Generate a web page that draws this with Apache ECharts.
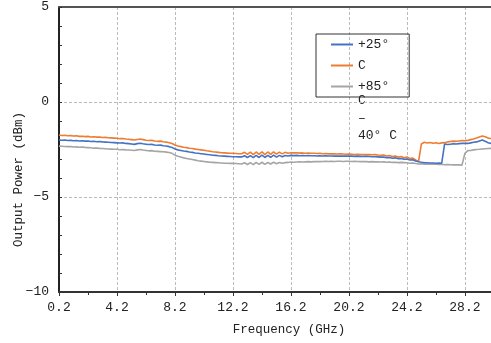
<!DOCTYPE html>
<html>
<head>
<meta charset="utf-8">
<script src="https://cdn.jsdelivr.net/npm/echarts@6/dist/echarts.min.js"></script>
<style>html,body{margin:0;padding:0;background:#fff}#c{width:491px;height:343px}</style>
</head>
<body>
<div id="c"></div>
<script>
// Frequency grid (GHz)
const freqs = [
 0.2,0.4,0.6,0.8,1.0,1.2,1.4,1.6,1.8,2.0,
 2.2,2.4,2.6,2.8,3.0,3.2,3.4,3.6,3.8,4.0,
 4.2,4.4,4.6,4.8,5.0,5.2,5.4,5.6,5.8,6.0,
 6.2,6.4,6.6,6.8,7.0,7.2,7.4,7.6,7.8,8.0,
 8.2,8.4,8.6,8.8,9.0,9.2,9.4,9.6,9.8,10.0,
 10.2,10.4,10.6,10.8,11.0,11.2,11.4,11.6,11.8,12.0,
 12.2,12.4,12.6,12.8,13.0,13.2,13.4,13.6,13.8,14.0,
 14.2,14.4,14.6,14.8,15.0,15.2,15.4,15.6,15.8,16.0,
 16.2,16.4,16.6,16.8,17.0,17.2,17.4,17.6,17.8,18.0,
 18.2,18.4,18.6,18.8,19.0,19.2,19.4,19.6,19.8,20.0,
 20.2,20.4,20.6,20.8,21.0,21.2,21.4,21.6,21.8,22.0,
 22.2,22.4,22.6,22.8,23.0,23.2,23.4,23.6,23.8,24.0,
 24.2,24.4,24.6,24.8,25.0,25.2,25.4,25.6,25.8,26.0,
 26.2,26.4,26.6,26.8,27.0,27.2,27.4,27.6,27.8,28.0,
 28.2,28.4,28.6,28.8,29.0,29.2,29.4,29.6,29.8,30.0
];
// Output power (dBm), blue series
const powerBlue = [
 -2.00,-2.01,-2.00,-2.03,-2.02,-2.04,-2.03,-2.05,-2.04,-2.06,
 -2.05,-2.08,-2.07,-2.09,-2.08,-2.10,-2.11,-2.12,-2.13,-2.14,
 -2.15,-2.16,-2.15,-2.18,-2.19,-2.21,-2.23,-2.19,-2.17,-2.20,
 -2.22,-2.24,-2.23,-2.26,-2.28,-2.27,-2.30,-2.32,-2.35,-2.39,
 -2.47,-2.52,-2.55,-2.58,-2.60,-2.63,-2.65,-2.68,-2.70,-2.72,
 -2.74,-2.76,-2.78,-2.80,-2.81,-2.83,-2.84,-2.85,-2.86,-2.87,
 -2.88,-2.88,-2.89,-2.89,-2.83,-2.92,-2.82,-2.93,-2.81,-2.92,
 -2.80,-2.92,-2.81,-2.91,-2.80,-2.90,-2.81,-2.88,-2.82,-2.84,
 -2.81,-2.82,-2.81,-2.83,-2.82,-2.83,-2.82,-2.83,-2.83,-2.84,
 -2.83,-2.84,-2.83,-2.84,-2.84,-2.85,-2.84,-2.85,-2.84,-2.85,
 -2.84,-2.85,-2.86,-2.85,-2.86,-2.87,-2.86,-2.87,-2.88,-2.88,
 -2.89,-2.90,-2.90,-2.93,-2.92,-2.96,-2.94,-2.99,-2.97,-3.01,
 -3.00,-3.05,-3.04,-3.10,-3.14,-3.17,-3.19,-3.20,-3.21,-3.21,
 -3.22,-3.21,-3.22,-2.21,-2.24,-2.22,-2.20,-2.21,-2.19,-2.18,
 -2.17,-2.18,-2.15,-2.12,-2.10,-2.05,-2.00,-2.07,-2.14,-2.18
];
// Output power (dBm), orange series
const powerOrange = [
 -1.74,-1.76,-1.75,-1.78,-1.77,-1.79,-1.78,-1.81,-1.80,-1.82,
 -1.81,-1.84,-1.83,-1.85,-1.84,-1.87,-1.86,-1.88,-1.89,-1.90,
 -1.91,-1.93,-1.92,-1.95,-1.96,-1.98,-2.00,-1.97,-1.95,-1.98,
 -2.01,-2.03,-2.02,-2.05,-2.07,-2.06,-2.09,-2.11,-2.14,-2.18,
 -2.26,-2.32,-2.35,-2.38,-2.40,-2.43,-2.45,-2.48,-2.50,-2.52,
 -2.54,-2.57,-2.59,-2.62,-2.63,-2.65,-2.67,-2.68,-2.69,-2.70,
 -2.70,-2.71,-2.72,-2.72,-2.65,-2.76,-2.64,-2.77,-2.63,-2.76,
 -2.62,-2.77,-2.63,-2.76,-2.62,-2.74,-2.64,-2.73,-2.65,-2.70,
 -2.67,-2.68,-2.67,-2.69,-2.68,-2.70,-2.69,-2.70,-2.70,-2.71,
 -2.70,-2.72,-2.71,-2.73,-2.72,-2.73,-2.74,-2.73,-2.74,-2.75,
 -2.74,-2.75,-2.76,-2.75,-2.76,-2.77,-2.76,-2.77,-2.78,-2.77,
 -2.79,-2.80,-2.79,-2.84,-2.82,-2.87,-2.84,-2.90,-2.87,-2.93,
 -2.89,-2.97,-2.95,-3.05,-3.14,-2.21,-2.12,-2.16,-2.13,-2.17,
 -2.14,-2.18,-2.15,-2.14,-2.10,-2.08,-2.06,-2.07,-2.05,-2.03,
 -2.04,-2.02,-1.98,-1.95,-1.90,-1.84,-1.79,-1.83,-1.90,-1.92
];
// Output power (dBm), gray series
const powerGray = [
 -2.32,-2.33,-2.34,-2.35,-2.34,-2.37,-2.36,-2.38,-2.37,-2.39,
 -2.40,-2.41,-2.43,-2.42,-2.44,-2.45,-2.46,-2.47,-2.48,-2.49,
 -2.49,-2.51,-2.50,-2.52,-2.53,-2.54,-2.55,-2.52,-2.50,-2.53,
 -2.55,-2.57,-2.56,-2.59,-2.60,-2.61,-2.62,-2.64,-2.66,-2.70,
 -2.80,-2.86,-2.90,-2.94,-2.97,-3.00,-3.03,-3.06,-3.09,-3.11,
 -3.13,-3.15,-3.17,-3.18,-3.19,-3.20,-3.21,-3.22,-3.22,-3.23,
 -3.23,-3.24,-3.25,-3.26,-3.20,-3.29,-3.19,-3.30,-3.18,-3.28,
 -3.17,-3.28,-3.18,-3.26,-3.17,-3.25,-3.18,-3.22,-3.19,-3.18,
 -3.16,-3.17,-3.16,-3.15,-3.16,-3.15,-3.14,-3.15,-3.14,-3.13,
 -3.14,-3.13,-3.12,-3.13,-3.12,-3.13,-3.12,-3.12,-3.13,-3.12,
 -3.12,-3.13,-3.12,-3.13,-3.14,-3.13,-3.14,-3.15,-3.14,-3.15,
 -3.15,-3.16,-3.15,-3.17,-3.16,-3.18,-3.17,-3.19,-3.18,-3.19,
 -3.20,-3.22,-3.21,-3.24,-3.26,-3.25,-3.27,-3.26,-3.28,-3.27,
 -3.28,-3.29,-3.28,-3.30,-3.29,-3.30,-3.31,-3.30,-3.31,-3.32,
 -2.70,-2.56,-2.55,-2.52,-2.50,-2.49,-2.47,-2.46,-2.45,-2.44
];
const seriesNames = ['+25°C', '−40°C', '+85°C'];
const legendLabels = ['+25°', 'C', '+85°'];
const legendOverflow = ['C', '–', '40° C'];
const xTickLabels = ['0.2','4.2','8.2','12.2','16.2','20.2','24.2','28.2'];
const yTickLabels = {'5':'5','0':'0','-5':'−5','-10':'−10'};

const FONT = '"Liberation Mono", "DejaVu Sans Mono", monospace';
const pair = (ys) => freqs.map((f, i) => [f, ys[i]]);
const colors = ['#4472C4', '#ED7D31', '#A5A5A5'];
const values = [powerBlue, powerOrange, powerGray];

const chart = echarts.init(document.getElementById('c'), null, {renderer: 'canvas'});
chart.setOption({
  animation: false,
  backgroundColor: '#fff',
  grid: {left: 59, right: 0, top: 7, bottom: 51, containLabel: false, outerBoundsMode: 'none'},
  xAxis: [{
    type: 'value', min: 0.2, max: 30, interval: 4,
    name: 'Frequency (GHz)', nameLocation: 'middle', nameGap: 31, nameMoveOverlap: false,
    nameTextStyle: {fontFamily: FONT, fontSize: 12.5, color: '#222', padding: [0, 0, 0, 28]},
    axisLine: {show: true, onZero: false, lineStyle: {color: '#333', width: 2}},
    axisTick: {show: true, inside: false, length: 4, lineStyle: {color: '#333'}},
    minorTick: {show: true, splitNumber: 2, length: 3, lineStyle: {color: '#333'}},
    axisLabel: {fontFamily: FONT, fontSize: 13, color: '#222', margin: 9, showMaxLabel: false,
      formatter: (v) => { const i = Math.round((v - 0.2) / 4); return xTickLabels[i] || ''; }},
    splitLine: {show: true, lineStyle: {color: '#bbb', type: [3, 2], width: 1}}
  }, {
    type: 'value', position: 'top', min: 0.2, max: 30,
    axisLine: {show: true, onZero: false, lineStyle: {color: '#555', width: 2}},
    axisTick: {show: false}, axisLabel: {show: false}, splitLine: {show: false}
  }],
  yAxis: {
    type: 'value', min: -10, max: 5, interval: 5,
    name: 'Output Power (dBm)', nameLocation: 'middle', nameGap: 34, nameMoveOverlap: false,
    nameTextStyle: {fontFamily: FONT, fontSize: 12.5, color: '#222', padding: [0, 60, 0, 0]},
    axisLine: {show: true, onZero: false, lineStyle: {color: '#222', width: 2}},
    axisTick: {show: true, inside: true, length: 3, lineStyle: {color: '#333'}},
    minorTick: {show: true, splitNumber: 5, length: 3, lineStyle: {color: '#333'}},
    axisLabel: {fontFamily: FONT, fontSize: 13, color: '#222', margin: 10,
      formatter: (v) => yTickLabels[String(v)] || String(v)},
    splitLine: {show: true, lineStyle: {color: '#bbb', type: [3, 2], width: 1}}
  },
  legend: {
    orient: 'vertical', left: 316, top: 34,
    borderColor: '#333', borderWidth: 1, padding: [3, 20, 3, 15],
    itemGap: 6, itemWidth: 22, itemHeight: 2, icon: 'rect',
    textStyle: {fontFamily: FONT, fontSize: 13, color: '#222', lineHeight: 15},
    formatter: (name) => legendLabels[seriesNames.indexOf(name)],
    data: seriesNames
  },
  graphic: legendOverflow.map((t, i) => ({
    type: 'text', left: 358, top: [94, 112, 129][i],
    style: {text: t, font: '13px ' + FONT, fill: '#222'}
  })),
  series: seriesNames.map((n, k) => ({
    name: n, type: 'line', data: pair(values[k]), xAxisIndex: 0,
    showSymbol: false, symbol: 'none', color: colors[k],
    lineStyle: {width: 1.6, color: colors[k]}, z: 3 - k
  }))
});
</script>
</body>
</html>
